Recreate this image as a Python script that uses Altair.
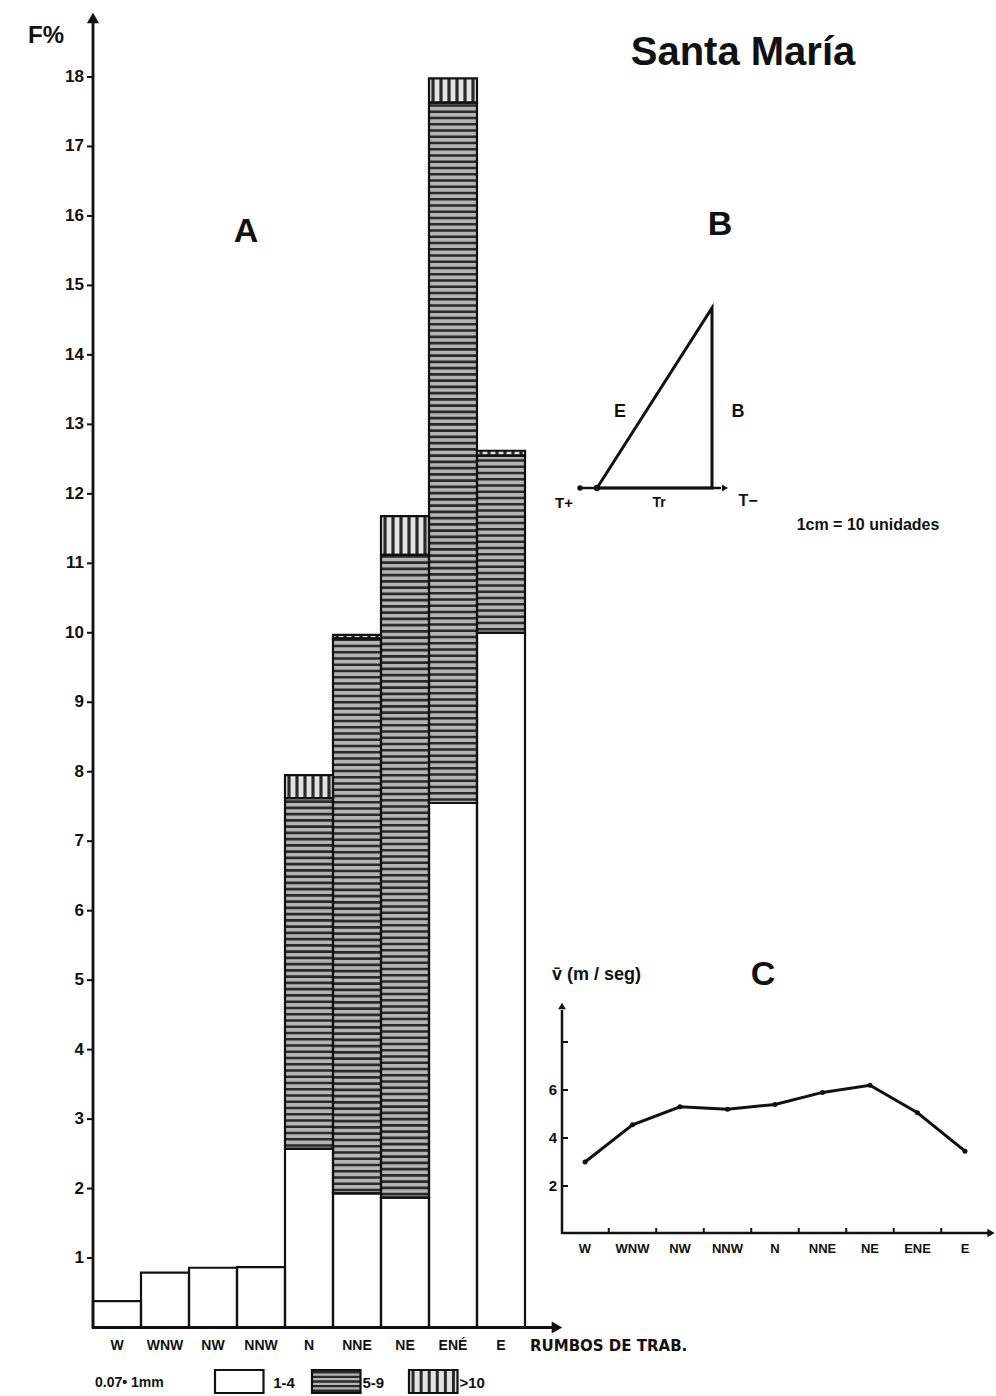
import altair as alt
import pandas as pd
import numpy as np

# ---------------- data ----------------
directions = ["W", "WNW", "NW", "NNW", "N", "NNE", "NE", "ENÉ", "E"]
freq_1_4 = [0.38, 0.79, 0.86, 0.87, 2.57, 1.93, 1.87, 7.55, 10.0]
freq_5_9 = [0.0, 0.0, 0.0, 0.0, 5.05, 7.99, 9.25, 10.08, 2.55]
freq_gt10 = [0.0, 0.0, 0.0, 0.0, 0.33, 0.05, 0.56, 0.35, 0.07]
f_ticks = list(range(1, 19))
classes = ["1-4", "5-9", ">10"]

c_directions = ["W", "WNW", "NW", "NNW", "N", "NNE", "NE", "ENE", "E"]
c_speed = [3.0, 4.55, 5.3, 5.2, 5.4, 5.9, 6.2, 5.05, 3.45]
c_ticks = [2, 4, 6, 8]
c_tick_labels = ["2", "4", "6", ""]

tri_tr = [0, 4, 4, 0]
tri_b = [0, 0, 6, 0]

FONT = "Liberation Sans"
BLACK = "#111111"
CLASS_FILL = ["#ffffff", "#b4b4b4", "#e2e2e2"]

# ---------------- scales (pixel ranges inside one canvas) ----------------
SX = alt.Scale(domain=[0, 9], range=[93, 525], zero=False, nice=False)
SY = alt.Scale(domain=[0, 18], range=[1327.5, 77], zero=False, nice=False)
LX = alt.Scale(domain=[0, 3], range=[215, 506], zero=False, nice=False)
LY = alt.Scale(domain=[0, 1], range=[1393, 1370], zero=False, nice=False)
BX = alt.Scale(domain=[0, 4], range=[597, 712], zero=False, nice=False)
BY = alt.Scale(domain=[0, 6], range=[488, 308], zero=False, nice=False)
CX = alt.Scale(domain=[0, 8], range=[585, 965], zero=False, nice=False)
CY = alt.Scale(domain=[0, 8], range=[1234, 1042], zero=False, nice=False)
CLS = alt.Scale(domain=classes, range=CLASS_FILL)

one = pd.DataFrame({"k": [0]})


def text(t, x, y, size, align="center", weight="bold", font=FONT):
    return alt.Chart(one).mark_text(
        text=t, fontSize=size, fontWeight=weight, align=align, baseline="middle",
        font=font, color=BLACK
    ).encode(x=alt.value(x), y=alt.value(y))


def hline(x1, x2, y, w=2.5):
    return alt.Chart(one).mark_rule(color=BLACK, strokeWidth=w).encode(
        x=alt.value(x1), x2=alt.value(x2), y=alt.value(y))


def vline(x, y1, y2, w=2.5):
    return alt.Chart(one).mark_rule(color=BLACK, strokeWidth=w).encode(
        x=alt.value(x), y=alt.value(y1), y2=alt.value(y2))


def arrow(x, y, shape, size=130):
    return alt.Chart(one).mark_point(shape=shape, filled=True, size=size, color=BLACK, opacity=1).encode(
        x=alt.value(x), y=alt.value(y))


# ---------------- panel A: stacked bars ----------------
seg_rows, h_rows, v_rows = [], [], []
for i, d in enumerate(directions):
    lo = 0.0
    for cls, val in zip(classes, [freq_1_4[i], freq_5_9[i], freq_gt10[i]]):
        if val > 0:
            hi = lo + val
            seg_rows.append(dict(x0=i, x1=i + 1, cls=cls, lo=lo, hi=hi))
            if cls == "5-9":
                for v in np.arange(lo + 0.05, hi, 0.09):
                    h_rows.append(dict(x0=i, x1=i + 1, v=v))
            if cls == ">10":
                for k in range(6):
                    v_rows.append(dict(xs=i + (k + 0.5) / 6, lo=lo, hi=hi))
            lo = hi
seg = pd.DataFrame(seg_rows)
hstr = pd.DataFrame(h_rows)
vstr = pd.DataFrame(v_rows)

fills = alt.Chart(seg).mark_rect().encode(
    x=alt.X("x0:Q", scale=SX, axis=None), x2="x1:Q",
    y=alt.Y("lo:Q", scale=SY, axis=None), y2="hi:Q",
    color=alt.Color("cls:N", scale=CLS, legend=None))

hstripes = alt.Chart(hstr).mark_rule(color="#2a2a2a", strokeWidth=2.6).encode(
    x=alt.X("x0:Q", scale=SX, axis=None), x2="x1:Q",
    y=alt.Y("v:Q", scale=SY, axis=None))

vstripes = alt.Chart(vstr).mark_rule(color="#2a2a2a", strokeWidth=3.2).encode(
    x=alt.X("xs:Q", scale=SX, axis=None),
    y=alt.Y("lo:Q", scale=SY, axis=None), y2="hi:Q")

outlines = alt.Chart(seg).mark_rect(fillOpacity=0, stroke=BLACK, strokeWidth=2.2).encode(
    x=alt.X("x0:Q", scale=SX, axis=None), x2="x1:Q",
    y=alt.Y("lo:Q", scale=SY, axis=None), y2="hi:Q")

ytick_df = pd.DataFrame({"t": f_ticks})
yticks = alt.Chart(ytick_df).mark_rule(color=BLACK, strokeWidth=2).encode(
    x=alt.value(87), x2=alt.value(93), y=alt.Y("t:Q", scale=SY, axis=None))
ylabels = alt.Chart(ytick_df).mark_text(
    align="right", baseline="middle", fontSize=17, fontWeight="bold", font=FONT, color=BLACK
).encode(x=alt.value(84), y=alt.Y("t:Q", scale=SY, axis=None), text="t:Q")

xlab_df = pd.DataFrame({"xc": [i + 0.5 for i in range(len(directions))], "d": directions})
xlabels = alt.Chart(xlab_df).mark_text(
    baseline="middle", fontSize=14, fontWeight="bold", font=FONT, color=BLACK
).encode(x=alt.X("xc:Q", scale=SX, axis=None), y=alt.value(1346), text="d:N")

# ---------------- legend of panel A ----------------
leg_df = pd.DataFrame({"x0": [0, 1, 2], "x1": [0.5, 1.5, 2.5], "lo": [0, 0, 0], "hi": [1, 1, 1],
                       "cls": classes, "tx": [0.6, 1.52, 2.52]})
leg_fill = alt.Chart(leg_df).mark_rect().encode(
    x=alt.X("x0:Q", scale=LX, axis=None), x2="x1:Q",
    y=alt.Y("lo:Q", scale=LY, axis=None), y2="hi:Q",
    color=alt.Color("cls:N", scale=CLS, legend=None))
leg_h = alt.Chart(pd.DataFrame({"x0": [1] * 5, "x1": [1.5] * 5, "v": [0.1, 0.3, 0.5, 0.7, 0.9]})).mark_rule(
    color="#2a2a2a", strokeWidth=2.4).encode(
    x=alt.X("x0:Q", scale=LX, axis=None), x2="x1:Q", y=alt.Y("v:Q", scale=LY, axis=None))
leg_v = alt.Chart(pd.DataFrame({"xs": [2 + (k + 0.5) / 12 for k in range(6)], "lo": [0] * 6, "hi": [1] * 6})).mark_rule(
    color="#2a2a2a", strokeWidth=3).encode(
    x=alt.X("xs:Q", scale=LX, axis=None), y=alt.Y("lo:Q", scale=LY, axis=None), y2="hi:Q")
leg_out = alt.Chart(leg_df).mark_rect(fillOpacity=0, stroke=BLACK, strokeWidth=2.2).encode(
    x=alt.X("x0:Q", scale=LX, axis=None), x2="x1:Q",
    y=alt.Y("lo:Q", scale=LY, axis=None), y2="hi:Q")
leg_txt = alt.Chart(leg_df).mark_text(
    align="left", baseline="middle", fontSize=15, fontWeight="bold", font=FONT, color=BLACK
).encode(x=alt.X("tx:Q", scale=LX, axis=None), y=alt.value(1383), text="cls:N")

# ---------------- panel B: triangle ----------------
tri_df = pd.DataFrame({"tr": tri_tr, "b": tri_b, "o": list(range(len(tri_tr)))})
triangle = alt.Chart(tri_df).mark_line(color=BLACK, strokeWidth=3).encode(
    x=alt.X("tr:Q", scale=BX, axis=None), y=alt.Y("b:Q", scale=BY, axis=None), order="o:Q")
tri_pts = alt.Chart(tri_df.iloc[:1]).mark_point(filled=True, size=40, color=BLACK, opacity=1).encode(
    x=alt.X("tr:Q", scale=BX, axis=None), y=alt.Y("b:Q", scale=BY, axis=None))

# ---------------- panel C: mean speed ----------------
c_df = pd.DataFrame({"i": list(range(len(c_directions))), "d": c_directions, "v": c_speed})
c_line = alt.Chart(c_df).mark_line(color=BLACK, strokeWidth=3).encode(
    x=alt.X("i:Q", scale=CX, axis=None), y=alt.Y("v:Q", scale=CY, axis=None))
c_pts = alt.Chart(c_df).mark_point(filled=True, size=25, color=BLACK, opacity=1).encode(
    x=alt.X("i:Q", scale=CX, axis=None), y=alt.Y("v:Q", scale=CY, axis=None))
c_xlabels = alt.Chart(c_df).mark_text(
    baseline="middle", fontSize=13, fontWeight="bold", font=FONT, color=BLACK
).encode(x=alt.X("i:Q", scale=CX, axis=None), y=alt.value(1249), text="d:N")
c_xt_df = pd.DataFrame({"m": [i + 0.5 for i in range(len(c_directions) - 1)]})
c_xticks = alt.Chart(c_xt_df).mark_rule(color=BLACK, strokeWidth=2).encode(
    x=alt.X("m:Q", scale=CX, axis=None), y=alt.value(1228), y2=alt.value(1233))
c_yt_df = pd.DataFrame({"t": c_ticks, "lab": c_tick_labels})
c_yticks = alt.Chart(c_yt_df).mark_rule(color=BLACK, strokeWidth=2).encode(
    x=alt.value(562), x2=alt.value(568), y=alt.Y("t:Q", scale=CY, axis=None))
c_ylabels = alt.Chart(c_yt_df).mark_text(
    align="right", baseline="middle", fontSize=15, fontWeight="bold", font=FONT, color=BLACK
).encode(x=alt.value(557), y=alt.Y("t:Q", scale=CY, axis=None), text="lab:N")

layers = [
    fills, hstripes, vstripes, outlines,
    # axes of A
    vline(93, 22, 1328.5, 2.8), arrow(93, 18, "triangle-up", 150),
    hline(92, 553, 1327.5, 3), arrow(557, 1327.5, "triangle-right", 150),
    yticks, ylabels, xlabels,
    text("F%", 46, 36, 24), text("RUMBOS DE TRAB.", 530, 1346, 15, align="left", font="DejaVu Sans"),
    text("A", 246, 232, 34), text("B", 720, 225, 34), text("C", 763, 975, 34),
    text("Santa María", 743, 53, 40),
    # legend
    text("0.07• 1mm", 95, 1383, 14, align="left"),
    leg_fill, leg_h, leg_v, leg_out, leg_txt,
    # panel B
    hline(580, 721, 488, 2.5), arrow(725, 488, "triangle-right", 50),
    arrow(580, 488, "circle", 30),
    triangle, tri_pts,
    text("E", 620, 412, 18), text("B", 738, 412, 18),
    text("T+", 564, 503, 15), text("Tr", 659, 503, 14), text("T−", 748, 501, 16),
    text("1cm = 10 unidades", 868, 525, 16),
    # panel C
    vline(562, 1010, 1234, 2.5), arrow(562, 1006, "triangle-up", 60),
    hline(562, 988, 1233, 2.5), arrow(991, 1233, "triangle-right", 70),
    c_xticks, c_yticks, c_ylabels, c_xlabels, c_line, c_pts,
    text("v\u0304 (m / seg)", 552, 975, 18, align="left"),
]

chart = alt.layer(*layers).resolve_scale(
    x="independent", y="independent", color="independent"
).properties(
    width=996, height=1396, padding=0, autosize="none", background="white"
).configure_view(stroke=None)

chart.save("out.html", embed_options={"renderer": "svg", "actions": False})
